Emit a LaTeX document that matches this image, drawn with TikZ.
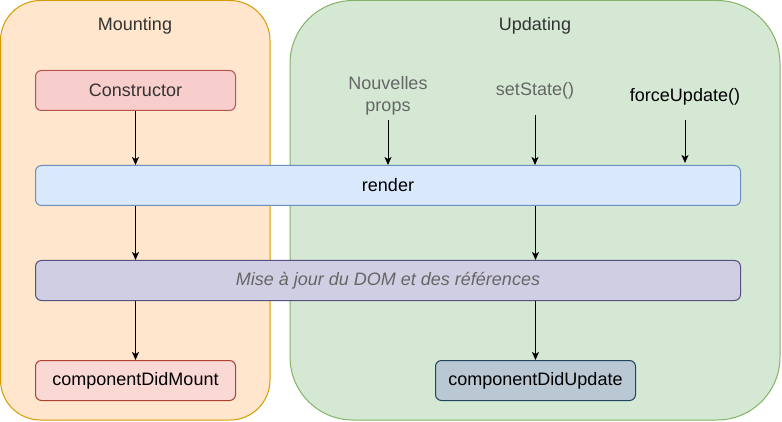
\documentclass[tikz,border=0pt]{standalone}
\usepackage{fontspec}
\setmainfont{Liberation Sans}
\usetikzlibrary{arrows.meta}
\definecolor{mfill}{HTML}{FFE6CC}\definecolor{mdraw}{HTML}{D79B00}
\definecolor{ufill}{HTML}{D5E8D4}\definecolor{udraw}{HTML}{82B366}
\definecolor{cfill}{HTML}{F8CECC}\definecolor{cdraw}{HTML}{B85450}
\definecolor{rfill}{HTML}{DAE8FC}\definecolor{rdraw}{HTML}{6C8EBF}
\definecolor{dfill}{HTML}{D0CEE2}\definecolor{ddraw}{HTML}{56517E}
\definecolor{mtfill}{HTML}{FAD9D5}\definecolor{mtdraw}{HTML}{AE4132}
\definecolor{upfill}{HTML}{BAC8D3}\definecolor{updraw}{HTML}{23445D}
\definecolor{txtdark}{HTML}{333333}
\definecolor{txtgray}{HTML}{666666}
\begin{document}
\begin{tikzpicture}[x=1pt,y=-1pt,
  every node/.style={font=\fontsize{18}{22}\selectfont, inner sep=0pt},
  phase/.style={draw, line width=1pt, rounded corners=#1},
  box/.style={draw, line width=1pt, rounded corners=6pt, minimum height=40pt, anchor=north west},
  lbl/.style={align=center},
  arr/.style={draw=black, line width=1pt, -{Stealth[length=8pt,width=7pt,inset=2pt]}}]
\useasboundingbox (0,0) rectangle (782,422);
% phases
\draw[phase=40pt, fill=mfill, draw=mdraw] (0.5,0.5) rectangle (270,420);
\draw[phase=63pt, fill=ufill, draw=udraw] (290,0.5) rectangle (780,420);
\node[text=txtdark] (mount) at (135,26) {Mounting};
\node[text=txtdark] (upd) at (535,26) {Updating};
% boxes
\node[box, fill=cfill, draw=cdraw, minimum width=200pt, text=txtdark] (ctor) at (35,70) {Constructor};
\node[box, fill=rfill, draw=rdraw, minimum width=705pt] (render) at (35,165) {render};
\node[box, fill=dfill, draw=ddraw, minimum width=705pt, text=txtgray, font=\fontsize{18}{22}\selectfont\itshape] (dom) at (35,260) {Mise à jour du DOM et des références};
\node[box, fill=mtfill, draw=mtdraw, minimum width=200pt] (cdm) at (35,360) {componentDidMount};
\node[box, fill=upfill, draw=updraw, minimum width=200pt] (cdu) at (435,360) {componentDidUpdate};
% triggers
\node[lbl, text=txtgray] (props) at (388,96) {Nouvelles\\props};
\node[text=txtgray] (sst) at (535,91) {setState()};
\node[text=black] (fu) at (685,97) {forceUpdate()};
\coordinate (propsS) at (388,120);
\coordinate (sstS) at (535,115);
\coordinate (fuS) at (685,120);
\draw[arr] (propsS) -- (propsS |- render.north);
\draw[arr] (sstS) -- (sstS |- render.north);
\draw[arr] (fuS) -- ([yshift=2pt]fuS |- render.north);
% flow
\draw[arr] (ctor.south) -- (render.north -| ctor.south);
\draw[arr] (render.south -| ctor.south) -- (dom.north -| ctor.south);
\draw[arr] (dom.south -| cdm.north) -- (cdm.north);
\draw[arr] (render.south -| cdu.north) -- (dom.north -| cdu.north);
\draw[arr] (dom.south -| cdu.north) -- (cdu.north);
\end{tikzpicture}
\end{document}
